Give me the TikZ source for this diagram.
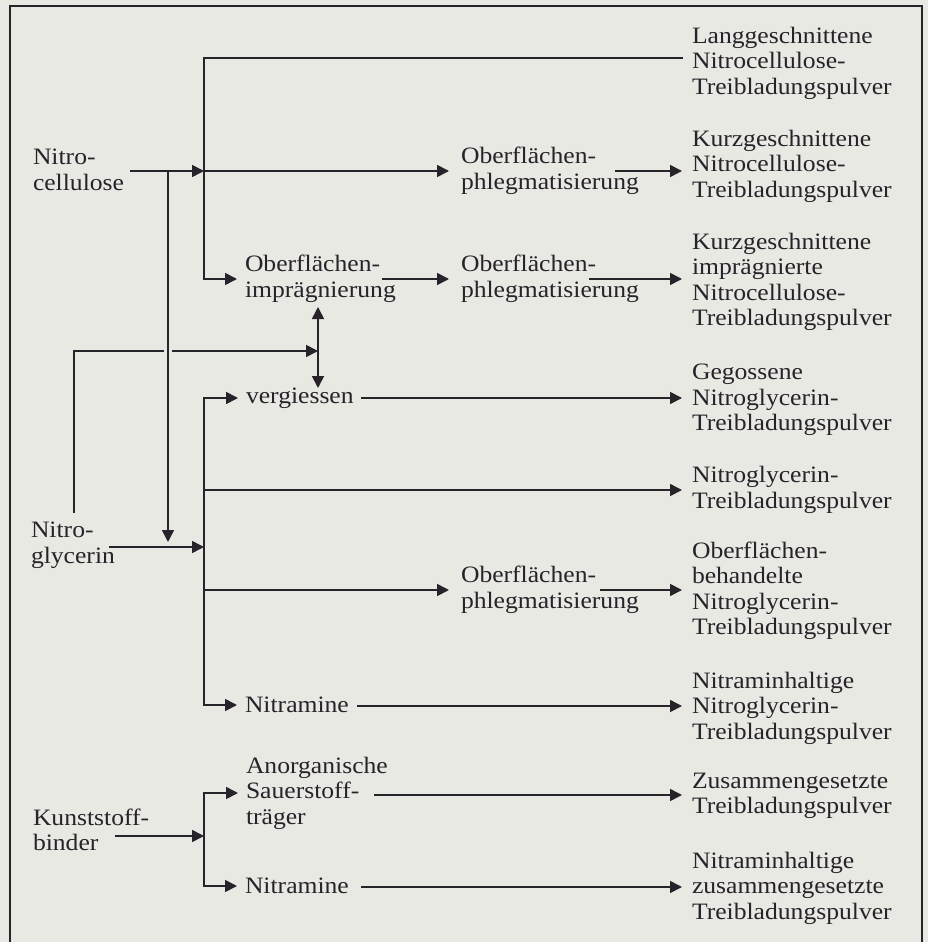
\documentclass[tikz,border=0pt]{standalone}
\usepackage{fontspec}
\setmainfont{Liberation Serif}[FakeStretch=1.09]
\usetikzlibrary{arrows.meta}
\definecolor{paper}{RGB}{233,233,227}
\definecolor{ink}{RGB}{40,34,42}
\begin{document}
\begin{tikzpicture}[x=1pt,y=-1pt,
  txt/.style={inner sep=0pt, anchor=west, align=left, text=ink,
    font=\fontsize{23.5}{25.5}\selectfont},
  rt/.style={txt, outer xsep=10pt},
  md/.style={txt, outer xsep=12pt},
  sm/.style={txt, outer xsep=8pt},
  lft/.style={txt, outer xsep=0pt},
  ln/.style={draw=ink, line width=1.7pt, line cap=rect},
  arr/.style={ln, -{Triangle[length=12pt,width=12pt]}},
  darr/.style={ln, {Triangle[length=12pt,width=12pt]}-{Triangle[length=12pt,width=12pt]}},
]
\useasboundingbox (0,0) rectangle (928,942);
\fill[paper] (0,0) rectangle (928,942);
% frame
\draw[ink, line width=1.7pt] (10,942) -- (10,6) -- (922,6) -- (922,942);

% left nodes
\node[lft] (NC) at (33,170) {Nitro-\\cellulose};
\node[lft] (NG) at (31,545) {Nitro-\\glycerin};
\node[lft] (KB) at (33,830) {Kunststoff-\\binder};
% middle nodes
\node[md] (M1) at (449,171) {Oberflächen-\\phlegmatisierung};
\node[sm] (Imp) at (237,279) {Oberflächen-\\imprägnierung};
\node[md] (M2) at (449,279) {Oberflächen-\\phlegmatisierung};
\node[sm] (Verg) at (238,398) {vergiessen};
\node[md] (M3) at (449,590) {Oberflächen-\\phlegmatisierung};
\node[sm] (Nitr1) at (237,705) {Nitramine};
\node[sm] (Anorg) at (238,793) {Anorganische\\Sauerstoff-\\träger};
\node[sm] (Nitr2) at (237,886) {Nitramine};
% right nodes
\node[rt] (R1) at (682,63) {Langgeschnittene\\Nitrocellulose-\\Treibladungspulver};
\node[rt] (R2) at (682,166) {Kurzgeschnittene\\Nitrocellulose-\\Treibladungspulver};
\node[rt] (R3) at (682,282) {Kurzgeschnittene\\imprägnierte\\Nitrocellulose-\\Treibladungspulver};
\node[rt] (R4) at (682,400) {Gegossene\\Nitroglycerin-\\Treibladungspulver};
\node[rt] (R5) at (682,490) {Nitroglycerin-\\Treibladungspulver};
\node[rt] (R6) at (682,591) {Oberflächen-\\behandelte\\Nitroglycerin-\\Treibladungspulver};
\node[rt] (R7) at (682,708) {Nitraminhaltige\\Nitroglycerin-\\Treibladungspulver};
\node[rt] (R8) at (682,796) {Zusammengesetzte\\Treibladungspulver};
\node[rt] (R9) at (682,888) {Nitraminhaltige\\zusammengesetzte\\Treibladungspulver};

% coordinates
\coordinate (a0) at (204,58);
\coordinate (a1) at (204,171);
\coordinate (a2) at (204,279);
\coordinate (nc0) at (131,171);
\coordinate (m1o) at (616,171);
\coordinate (impo) at (383,279);
\coordinate (m2o) at (590,279);
\coordinate (d0) at (318,307);
\coordinate (d1) at (318,388);
\coordinate (ng0) at (74,512);
\coordinate (ng1) at (74,351);
\coordinate (c0) at (168,171);
\coordinate (c1) at (168,542);
\coordinate (ng2) at (110,547);
\coordinate (b1) at (204,547);
\coordinate (b0) at (204,398);
\coordinate (b2) at (204,490);
\coordinate (b3) at (204,590);
\coordinate (b4) at (204,705);
\coordinate (vo) at (362,398);
\coordinate (m3o) at (601,590);
\coordinate (n1o) at (358,706);
\coordinate (k0) at (204,793);
\coordinate (k1) at (204,836);
\coordinate (k2) at (204,886);
\coordinate (kb0) at (116,836);
\coordinate (ao) at (375,795);
\coordinate (n2o) at (362,887);

% Nitrocellulose block
\draw[ln] (a0 -| R1.west) -- (a0) -- (a2);
\draw[arr] (a1) -- (M1.west);
\draw[arr] (m1o) -- (m1o -| R2.west);
\draw[arr] (a2) -- (Imp.west);
\draw[arr] (impo) -- (M2.west);
\draw[arr] (m2o) -- (m2o -| R3.west);
\draw[darr] (d0) -- (d1);

% Nitroglycerin upper line with crossing gap
\draw[arr] (ng0) -- (ng1) -- (ng1 -| d0);
\draw[paper, line width=8pt] (168,347) -- (168,355);
\draw[arr] (c0) -- (c1);
\draw[arr] (nc0) -- (a1);

% Nitroglycerin block
\draw[arr] (ng2) -- (b1);
\draw[ln] (b0) -- (b4);
\draw[arr] (b0) -- (Verg.west);
\draw[arr] (vo) -- (vo -| R4.west);
\draw[arr] (b2) -- (b2 -| R5.west);
\draw[arr] (b3) -- (M3.west);
\draw[arr] (m3o) -- (m3o -| R6.west);
\draw[arr] (b4) -- (Nitr1.west);
\draw[arr] (n1o) -- (n1o -| R7.west);

% Kunststoffbinder block
\draw[ln] (k0) -- (k2);
\draw[arr] (kb0) -- (k1);
\draw[arr] (k0) -- (Anorg.west);
\draw[arr] (ao) -- (ao -| R8.west);
\draw[arr] (k2) -- (Nitr2.west);
\draw[arr] (n2o) -- (n2o -| R9.west);
\end{tikzpicture}
\end{document}
